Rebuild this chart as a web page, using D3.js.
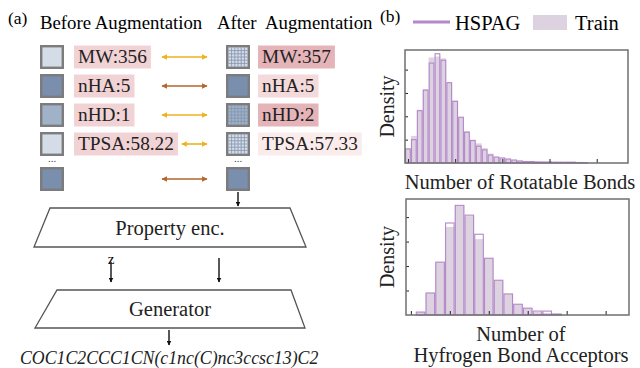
<!DOCTYPE html>
<html>
<head>
<meta charset="utf-8">
<script src="https://cdn.jsdelivr.net/npm/d3@7"></script>
<style>
body{margin:0;background:#fff;}
svg{display:block;font-family:"Liberation Serif","Times New Roman",serif;}
</style>
</head>
<body>
<svg id="containerSVG" width="640" height="368"></svg>
<script>
//DATI

var proprieta = ["MW", "nHA", "nHD", "TPSA"];
var valoriPrima = ["356", "5", "1", "58.22"];
var valoriDopo = ["357", "5", "2", "57.33"];
var tonoPrima = [0, 2, 1, 0, 2];
var tonoDopo = [0, 2, 1, 0, 2];
var aumentato = [true, false, true, true, false];
var evidenzaDopo = [2, 1, 2, 0];
var smiles = "COC1C2CCC1CN(c1nc(C)nc3ccsc13)C2";

var serie = ["HSPAG", "Train"];

var trainRuotabili = [0.016, 0.029, 0.057, 0.079, 0.113, 0.114, 0.112, 0.086, 0.067, 0.049, 0.034, 0.025, 0.021, 0.016, 0.010, 0.0065, 0.0054, 0.0043, 0.0032, 0.0027, 0.0021, 0.0016, 0.0016, 0.0011, 0.0011, 0.0011, 0.0005, 0.0005, 0.0005, 0.0003, 0.0002];
var hspagRuotabili = [0.015, 0.025, 0.056, 0.078, 0.107, 0.117, 0.110, 0.086, 0.066, 0.049, 0.033, 0.024, 0.018, 0.014, 0.0086, 0.0064, 0.0054, 0.0043, 0.0032, 0.0021, 0.0016, 0.0016, 0.0011, 0.0011, 0.0011, 0.0009, 0.0009, 0.0009, 0.0009, 0.0005, 0.0003];
var tickRuotabili = [0, 8, 16, 24, 32];
var tickDensitaRuotabili = [0.025, 0.05, 0.075, 0.1];

var trainAccettori = [0.006, 0.045, 0.108, 0.180, 0.224, 0.202, 0.155, 0.116, 0.071, 0.043, 0.022, 0.014, 0.006, 0.004, 0.002];
var hspagAccettori = [0.006, 0.045, 0.108, 0.188, 0.224, 0.204, 0.165, 0.116, 0.071, 0.043, 0.022, 0.014, 0.008, 0.008, 0.002];
var tickAccettori = [0, 4, 8, 12, 16, 20];
var tickDensitaAccettori = [0.05, 0.1, 0.15, 0.2];

//STILI

var coloreTono = ["#d4dce8", "#9fb2c8", "#7a8ead"];
var coloreRosa = ["#fbecec", "#f4dadb", "#e5b4b9"];
var rosaPrima = "#f1d3d5";
var oro = "#f0b11f";
var marrone = "#b5652c";
var viola = "#b488cb";
var lilla = "#ddd2df";

var svg;

//FUNZIONI

function inizializzazione(){

    svg = d3.select("#containerSVG");

    var defs = svg.append("defs");
    [["oro", oro], ["marrone", marrone], ["nero", "#111"]].forEach(c => {
        defs.append("marker")
            .attr("id", "punta-" + c[0])
            .attr("viewBox", "0 0 10 10")
            .attr("refX", 9).attr("refY", 5)
            .attr("markerWidth", c[0] == "nero" ? 5 : 5.5)
            .attr("markerHeight", c[0] == "nero" ? 5 : 5.5)
            .attr("markerUnits", "userSpaceOnUse")
            .attr("orient", "auto-start-reverse")
            .append("path")
            .attr("d", "M0,0 L10,5 L0,10 z")
            .attr("fill", c[1]);
    });

    disegnaAumento();
    disegnaFlusso();
    disegnaLegenda();
    disegnaIstogramma(trainRuotabili, hspagRuotabili, tickRuotabili, tickDensitaRuotabili,
        {x0: 405, x1: 628, y0: 50, y1: 163, dom: [-0.5, 37.3], ymax: 0.121, primo: 0});
    disegnaIstogramma(trainAccettori, hspagAccettori, tickAccettori, tickDensitaAccettori,
        {x0: 406, x1: 629, y0: 199, y1: 315, dom: [-0.5, 22.4], ymax: 0.237, primo: 1});
    disegnaTesti();

}

function yRiga(i){

    var s = d3.scaleLinear().domain([0, 4]).range([57, 173]);
    return s(i) + (i >= 4 ? 6 : 0);

}

function quadrato(g, x, y, tono, griglia){

    g.append("rect")
        .attr("x", x + 1.2).attr("y", y - 10.8)
        .attr("width", 21.6).attr("height", 21.6)
        .attr("fill", coloreTono[tono])
        .attr("stroke", "#7c7c7c")
        .attr("stroke-width", 2.4);

    if(griglia){
        var passi = d3.range(1, 6);
        passi.forEach(k => {
            var p = 2.4 + k * 19.2 / 6;
            g.append("line").attr("x1", x + p).attr("x2", x + p)
                .attr("y1", y - 9.6).attr("y2", y + 9.6)
                .attr("stroke", "#8393ad").attr("stroke-width", 0.8);
            g.append("line").attr("y1", y - 12 + p).attr("y2", y - 12 + p)
                .attr("x1", x + 2.4).attr("x2", x + 21.6)
                .attr("stroke", "#8393ad").attr("stroke-width", 0.8);
        });
    }

}

function etichetta(g, x, y, testo, colore){

    var t = g.append("text")
        .attr("x", x + 4).attr("y", y + 6)
        .style("font-size", "19.3px")
        .attr("fill", "#222")
        .text(testo);
    var w = t.node().getComputedTextLength();
    g.insert("rect", "text")
        .attr("x", x).attr("y", y - 11.5)
        .attr("width", w + 8).attr("height", 23)
        .attr("fill", colore);
    return x + w + 8;

}

function disegnaAumento(){

    var g = svg.append("g");

    g.append("text").attr("x", 8).attr("y", 24).style("font-size", "17.5px").text("(a)");
    g.append("text").attr("x", 40).attr("y", 29).style("font-size", "18.8px").text("Before Augmentation");
    g.append("text").attr("x", 217).attr("y", 29).style("font-size", "18.8px").text("After  Augmentation")
        .style("white-space", "pre");

    tonoPrima.forEach((tono, i) => {

        var y = yRiga(i);
        quadrato(g, 40, y, tono, false);
        quadrato(g, 226, y, tonoDopo[i], aumentato[i] && tonoDopo[i] < 2);

        var fine = 152;
        if(i < proprieta.length){
            var gr = g.append("g");
            fine = etichetta(gr, 74, y, proprieta[i] + ":" + valoriPrima[i], rosaPrima);
            var gd = g.append("g");
            etichetta(gd, 258, y, proprieta[i] + ":" + valoriDopo[i], coloreRosa[evidenzaDopo[i]]);
        }

        var nome = aumentato[i] ? "oro" : "marrone";
        g.append("line")
            .attr("x1", Math.max(162, fine + 4)).attr("x2", 207)
            .attr("y1", y).attr("y2", y)
            .attr("stroke", aumentato[i] ? oro : marrone)
            .attr("stroke-width", 1.6)
            .attr("marker-start", "url(#punta-" + nome + ")")
            .attr("marker-end", "url(#punta-" + nome + ")");

    });

    [52, 238].forEach(x => {
        g.append("text").attr("x", x).attr("y", 162)
            .style("text-anchor", "middle").style("font-size", "11px")
            .attr("fill", "#444").text("...");
    });

}

function freccia(x, y1, y2){

    svg.append("line")
        .attr("x1", x).attr("x2", x).attr("y1", y1).attr("y2", y2)
        .attr("stroke", "#111").attr("stroke-width", 1.4)
        .attr("marker-end", "url(#punta-nero)");

}

function trapezio(punti, testo, yTesto){

    svg.append("polygon")
        .attr("points", punti.map(p => p.join(",")).join(" "))
        .attr("fill", "white")
        .attr("stroke", "#555")
        .attr("stroke-width", 1.3);
    svg.append("text")
        .attr("x", 170).attr("y", yTesto)
        .style("text-anchor", "middle")
        .style("font-size", "20.5px")
        .attr("fill", "#222")
        .text(testo);

}

function disegnaFlusso(){

    freccia(238, 192, 206);
    trapezio([[50, 208], [290, 208], [306, 247], [34, 247]], "Property enc.", 235);

    svg.append("text").attr("x", 111).attr("y", 264)
        .style("text-anchor", "middle").style("font-size", "15px").text("z");
    freccia(111, 262, 282);
    freccia(219, 258, 282);

    trapezio([[57, 290], [291, 290], [305, 328], [35, 328]], "Generator", 316);
    freccia(169, 330, 345);

    svg.append("text").attr("x", 20).attr("y", 364)
        .style("font-size", "17.8px").style("font-style", "italic")
        .attr("fill", "#222").text(smiles);

}

function disegnaLegenda(){

    var g = svg.append("g");
    g.append("text").attr("x", 380).attr("y", 22).style("font-size", "17.5px").text("(b)");

    g.append("line").attr("x1", 413).attr("x2", 450).attr("y1", 22).attr("y2", 22)
        .attr("stroke", viola).attr("stroke-width", 3);
    g.append("text").attr("x", 455).attr("y", 30).style("font-size", "20.5px").text(serie[0]);

    g.append("rect").attr("x", 533).attr("y", 15).attr("width", 34).attr("height", 15)
        .attr("fill", lilla);
    g.append("text").attr("x", 575).attr("y", 30).style("font-size", "20.5px").text(serie[1]);

}

function disegnaIstogramma(train, hspag, tickX, tickY, o){

    var g = svg.append("g");
    var x = d3.scaleLinear().domain(o.dom).range([o.x0, o.x1]);
    var y = d3.scaleLinear().domain([0, o.ymax]).range([o.y1, o.y0]);

    g.selectAll(".train")
        .data(train)
        .enter()
        .append("rect")
        .attr("x", (d, i) => x(i + o.primo - 0.5))
        .attr("width", (d, i) => x(i + o.primo + 0.5) - x(i + o.primo - 0.5))
        .attr("y", d => y(d))
        .attr("height", d => y(0) - y(d))
        .attr("fill", lilla);

    g.selectAll(".hspag")
        .data(hspag)
        .enter()
        .append("rect")
        .attr("x", (d, i) => x(i + o.primo - 0.5) + 0.6)
        .attr("width", (d, i) => x(i + o.primo + 0.5) - x(i + o.primo - 0.5) - 1.2)
        .attr("y", d => y(d))
        .attr("height", d => y(0) - y(d))
        .attr("fill", "none")
        .attr("stroke", viola)
        .attr("stroke-width", 1.1);

    g.append("g")
        .attr("transform", "translate(0," + o.y1 + ")")
        .call(d3.axisBottom(x).tickValues(tickX).tickSize(-4).tickFormat(""))
        .call(a => a.select(".domain").remove())
        .selectAll("line").attr("stroke", "#222");

    g.append("g")
        .attr("transform", "translate(" + o.x0 + ",0)")
        .call(d3.axisLeft(y).tickValues(tickY).tickSize(-3).tickFormat(""))
        .call(a => a.select(".domain").remove())
        .selectAll("line").attr("stroke", "#222");

    g.append("rect")
        .attr("x", o.x0).attr("y", o.y0)
        .attr("width", o.x1 - o.x0).attr("height", o.y1 - o.y0)
        .attr("fill", "none")
        .attr("stroke", "#6f6f6f")
        .attr("stroke-width", 1.5);

    g.append("text")
        .attr("transform", "translate(394," + ((o.y0 + o.y1) / 2) + ") rotate(-90)")
        .style("text-anchor", "middle")
        .style("font-size", "20px")
        .attr("fill", "#222")
        .text("Density");

}

function disegnaTesti(){

    var stile = t => t.style("text-anchor", "middle").style("font-size", "20.5px").attr("fill", "#222");
    svg.append("text").attr("x", 520).attr("y", 189).call(stile).text("Number of Rotatable Bonds");
    svg.append("text").attr("x", 521).attr("y", 341).call(stile).text("Number of");
    svg.append("text").attr("x", 521).attr("y", 362).call(stile).text("Hyfrogen Bond Acceptors");

}

inizializzazione();
</script>
</body>
</html>
